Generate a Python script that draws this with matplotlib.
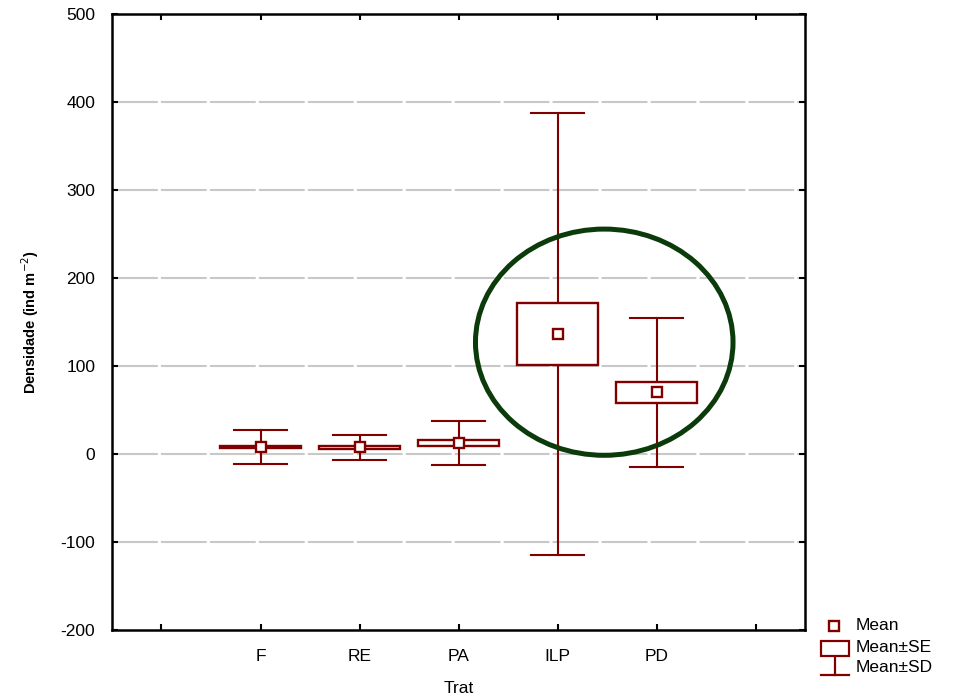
import matplotlib.pyplot as plt
from matplotlib.patches import Rectangle, Ellipse
from matplotlib.lines import Line2D

plt.rcParams['font.family'] = ['Liberation Sans', 'DejaVu Sans']
plt.rcParams['axes.unicode_minus'] = False

# mean, standard error and standard deviation per treatment
trat = ['F', 'RE', 'PA', 'ILP', 'PD']
mean = [8, 7.5, 12.5, 136, 70]
se = [1.5, 1.5, 3.5, 35, 12]
sd = [19.5, 14, 25.5, 251, 84.5]

yticks = [-200, -100, 0, 100, 200, 300, 400, 500]

red = '#800000'
green = '#0b3a0b'

fig = plt.figure(figsize=(9.61, 6.97), dpi=100)
ax = fig.add_axes([0.1165, 0.0961, 0.7215, 0.884])

pos = list(range(1, len(trat) + 1))
for x, m, s, d in zip(pos, mean, se, sd):
    # whiskers: mean +/- SD
    ax.plot([x, x], [m - d, m - s], color=red, lw=1.5, zorder=3)
    ax.plot([x, x], [m + s, m + d], color=red, lw=1.5, zorder=3)
    ax.plot([x - 0.27, x + 0.27], [m + d, m + d], color=red, lw=1.5, zorder=3)
    ax.plot([x - 0.27, x + 0.27], [m - d, m - d], color=red, lw=1.5, zorder=3)
    # box: mean +/- SE
    ax.add_patch(Rectangle((x - 0.41, m - s), 0.82, 2 * s, fill=True,
                           facecolor='white', edgecolor=red, lw=1.7, zorder=3))
    ax.plot([x], [m], marker='s', ms=6.5, mfc='white', mec=red, mew=1.7,
            zorder=4)

# highlight around ILP and PD
ax.add_patch(Ellipse((4.47, 127), 2.6, 257, fill=False, edgecolor=green,
                     lw=3.6, zorder=5))

ax.set_xlim(-0.5, 6.5)
ax.set_ylim(-200, 500)
ax.set_xticks(range(0, 7))
ax.set_xticklabels([''] + trat + [''])
ax.set_yticks(yticks)
ax.tick_params(direction='in', length=4, width=1.5, labelsize=12.5,
               top=True, right=True)
ax.tick_params(axis='x', pad=14)
ax.tick_params(axis='y', pad=12)

for y in yticks[1:-1]:
    ax.axhline(y, color='#c8c8c8', lw=1.5, dashes=[22, 1.5], zorder=1)

for sp in ax.spines.values():
    sp.set_linewidth(1.8)

ax.set_xlabel('Trat', fontsize=12.5, labelpad=12)
ax.set_ylabel('Densidade (ind m$^{-2}$)', fontsize=10.5, fontweight='bold',
              labelpad=14)

# legend, drawn in figure pixels
def fx(px):
    return px / 961

def fy(py):
    return 1 - py / 697

fig.add_artist(Line2D([fx(834)], [fy(626)], marker='s', ms=6.5, mfc='white',
                      mec=red, mew=1.7))
fig.add_artist(Rectangle((fx(821), fy(656)), fx(849) - fx(821),
                         fy(641) - fy(656), fill=False, edgecolor=red, lw=1.6,
                         transform=fig.transFigure))
fig.add_artist(Line2D([fx(835), fx(835)], [fy(657), fy(675)], color=red,
                      lw=1.6))
fig.add_artist(Line2D([fx(821), fx(849)], [fy(675), fy(675)], color=red,
                      lw=1.6))
for py, txt in zip([626, 648, 668], ['Mean', 'Mean±SE', 'Mean±SD']):
    fig.text(fx(856), fy(py), txt, fontsize=12.5, va='center', ha='left')

fig.savefig('out.png', dpi=100)
